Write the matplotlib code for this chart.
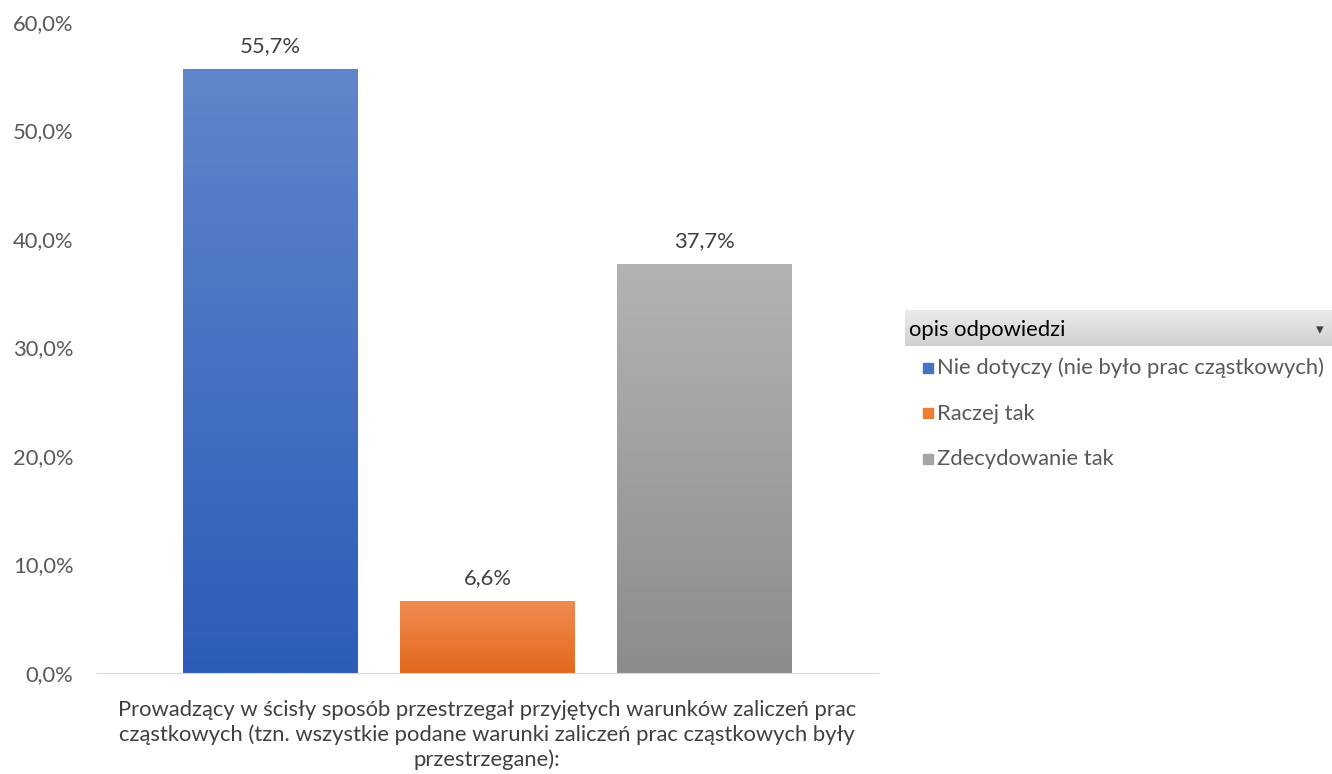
import matplotlib

matplotlib.use("Agg")
import matplotlib.pyplot as plt
import numpy as np
from matplotlib.colors import LinearSegmentedColormap
from matplotlib.patches import Rectangle

series = ["Nie dotyczy (nie było prac cząstkowych)", "Raczej tak", "Zdecydowanie tak"]
values = [55.7, 6.6, 37.7]
category = ("Prowadzący w ścisły sposób przestrzegał przyjętych warunków zaliczeń prac\n"
            "cząstkowych (tzn. wszystkie podane warunki zaliczeń prac cząstkowych były\n"
            "przestrzegane):")
legend_title = "opis odpowiedzi"
yticks = [0, 10, 20, 30, 40, 50, 60]

# top / bottom colours of each bar gradient
grad = [("#6086cb", "#2d5cb8"), ("#f08c52", "#e2691b"), ("#b3b3b3", "#8c8c8c")]
swatch = ["#4472c4", "#ed7d31", "#a5a5a5"]

plt.rcParams["font.family"] = ["Lato", "DejaVu Sans"]
txt = "#595959"
fs = 15.8

fig = plt.figure(figsize=(13.32, 7.74), dpi=100)
ax = fig.add_axes([0.0728, 0.1305, 0.5863, 0.8411])
x = np.arange(len(values))
width = 0.806

grad_img = np.linspace(0, 1, 256).reshape(-1, 1)
for xi, v, (top, bot) in zip(x, values, grad):
    bar = ax.bar(xi, v, width, color="none", edgecolor="none")[0]
    cmap = LinearSegmentedColormap.from_list("g", [bot, top])
    im = ax.imshow(grad_img, cmap=cmap, aspect="auto", origin="lower",
                   extent=[xi - width / 2, xi + width / 2, 0, v], zorder=2)
    im.set_clip_path(bar)
    ax.text(xi, v + 1.2, f"{v:.1f}".replace(".", ",") + "%", ha="center", va="bottom",
            fontsize=fs, color="#404040")
ax.set_xlim(-0.8, 2.8)
ax.set_ylim(0, 60)

ax.set_yticks(yticks)
ax.set_yticklabels([f"{t:.1f}".replace(".", ",") + "%" for t in yticks], fontsize=fs, color=txt)
ax.tick_params(axis="y", length=0, pad=17)
ax.set_xticks([])
for s in ("top", "right", "left"):
    ax.spines[s].set_visible(False)
ax.spines["bottom"].set_color("#d9d9d9")

fig.text(0.3657, 0.096, category, ha="center", va="top", fontsize=fs,
         color="#404040", linespacing=1.27)

# legend field-button style
hdr_cmap = LinearSegmentedColormap.from_list("h", ["#d0d0d0", "#ececec"])
hax = fig.add_axes([905 / 1332, 1 - 346 / 774, 427 / 1332, 36 / 774])
hax.imshow(grad_img, cmap=hdr_cmap, aspect="auto", origin="lower", extent=[0, 1, 0, 1])
hax.set_axis_off()
hax.text(0.01, 0.45, legend_title, ha="left", va="center", fontsize=fs, color="#000000")
hax.text(0.972, 0.45, "▾", ha="center", va="center", fontsize=11, color="#404040",
         family="DejaVu Sans")

for i, (name, c) in enumerate(zip(series, swatch)):
    yc = 1 - (368 + i * 45.5) / 774
    fig.patches.append(Rectangle((923 / 1332, yc - 5 / 774), 10 / 1332, 10 / 774,
                                 transform=fig.transFigure, color=c))
    fig.text(937 / 1332, yc, name, ha="left", va="center", fontsize=fs, color=txt)

fig.savefig("out.png", dpi=100)
plt.close(fig)
